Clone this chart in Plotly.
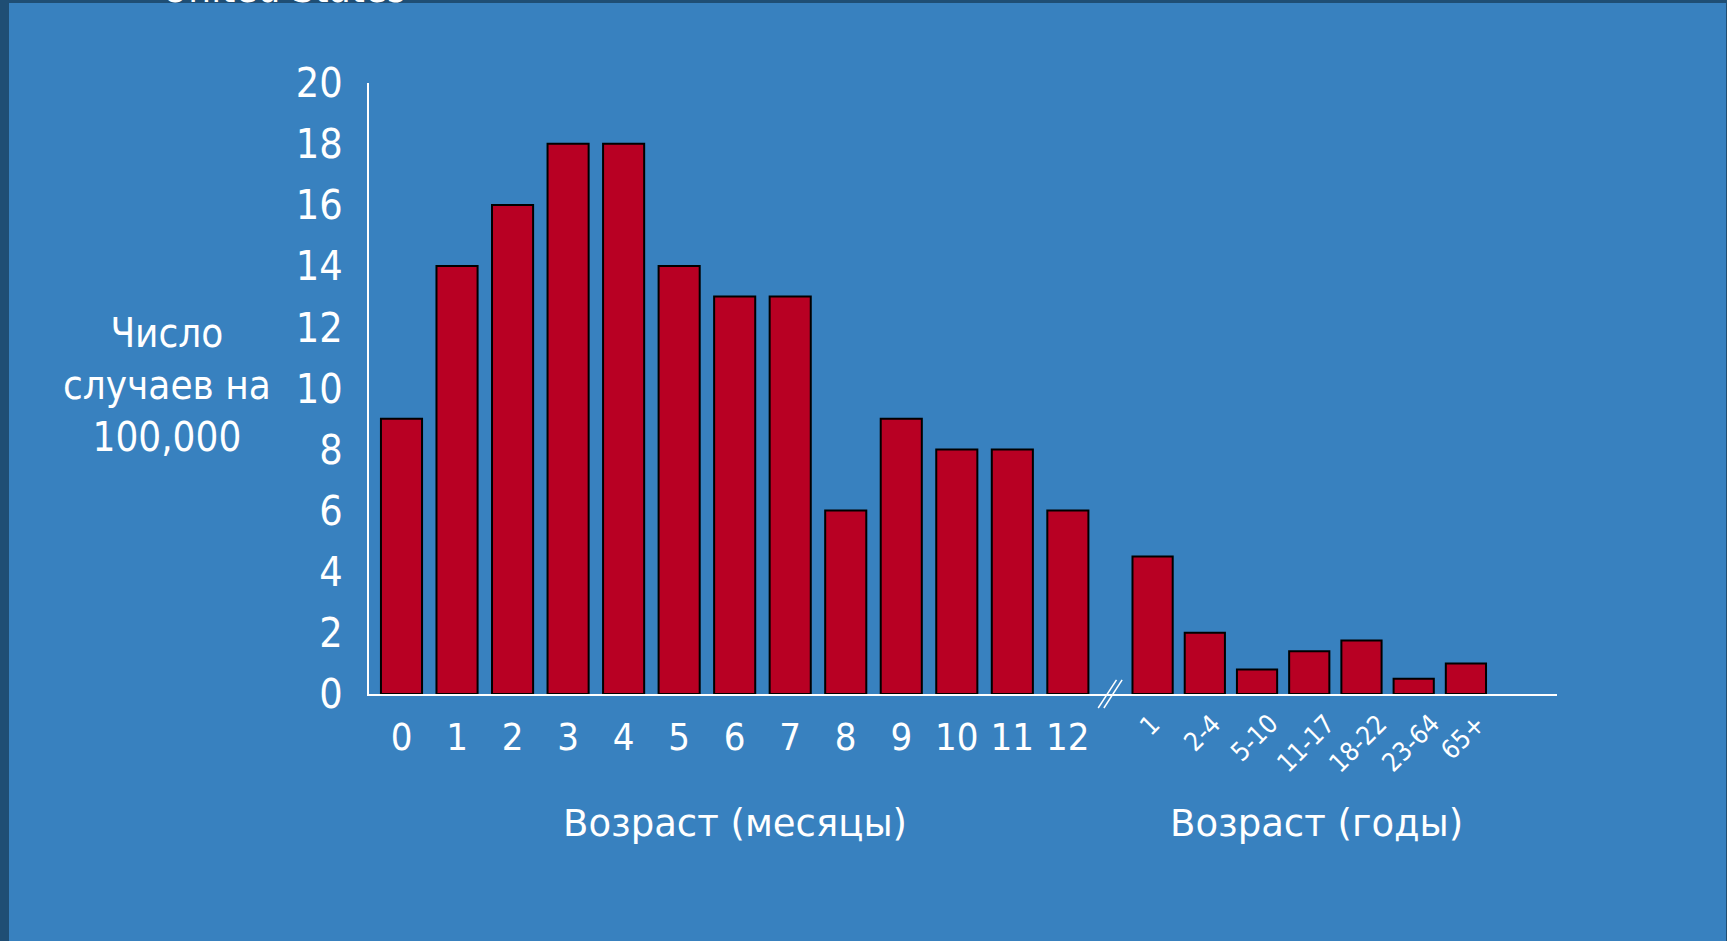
import plotly.graph_objects as go

W, H = 1727, 941

months = ["0", "1", "2", "3", "4", "5", "6", "7", "8", "9", "10", "11", "12"]
month_values = [9, 14, 16, 18, 18, 14, 13, 13, 6, 9, 8, 8, 6]
year_groups = ["1", "2-4", "5-10", "11-17", "18-22", "23-64", "65+"]
year_values = [4.5, 2.0, 0.8, 1.4, 1.75, 0.5, 1.0]
y_ticks = list(range(0, 21, 2))

BG = "#3881BF"
DARK = "#1F4E74"
BAR = "#B80023"
FONT_C = "DejaVu Sans Condensed, DejaVu Sans, sans-serif"
FONT_N = "DejaVu Sans, sans-serif"


def fx(px):
    return px / W


def fy(py):
    return 1 - py / H


# geometry (pixels)
y_base, y_top = 694.0, 82.6
x_left, x_right = 369.0, 1557.4
m_c0, m_step = 401.5, 55.53
yr_c0, yr_step = 1152.6, 52.22
m_right = m_c0 + (len(months) - 0.5) * m_step

fig = go.Figure()
fig.add_bar(x=months, y=month_values, xaxis="x", yaxis="y", width=0.74,
            marker=dict(color=BAR, line=dict(color="black", width=2)))
fig.add_bar(x=year_groups, y=year_values, xaxis="x2", yaxis="y", width=0.77,
            marker=dict(color=BAR, line=dict(color="black", width=2)))

axis_common = dict(type="category", showline=True, linecolor="white", linewidth=2,
                   showgrid=False, zeroline=False, ticks="", fixedrange=True)

# rotated year labels, centred under each bar (category index positions)
year_label_annotations = [
    dict(text=g, x=i, xref="x2", y=0, yref="y", xanchor="center", yanchor="top",
         yshift=-12, xshift=-3, textangle=-45, showarrow=False,
         font=dict(size=26, color="white", family=FONT_C))
    for i, g in enumerate(year_groups)
]

fig.update_layout(
    width=W, height=H,
    margin=dict(l=0, r=0, t=0, b=0, pad=0, autoexpand=False),
    paper_bgcolor=DARK, plot_bgcolor="rgba(0,0,0,0)",
    showlegend=False, bargap=0.2,
    font=dict(family=FONT_C, color="white"),
    xaxis=dict(domain=[fx(x_left), fx(m_right)],
               range=[(x_left - m_c0) / m_step, len(months) - 0.5],
               anchor="y", tickfont=dict(size=38, color="white", family=FONT_C),
               ticklabelstandoff=8, **axis_common),
    xaxis2=dict(domain=[fx(m_right), fx(x_right)],
                range=[(m_right - yr_c0) / yr_step, (x_right - yr_c0) / yr_step],
                anchor="y", showticklabels=False, **axis_common),
    yaxis=dict(domain=[fy(y_base), fy(y_top)], range=[0, 20], tickvals=y_ticks,
               showline=True, linecolor="white", linewidth=2, showgrid=False,
               zeroline=False, ticks="", tickfont=dict(size=41, color="white", family=FONT_C),
               ticklabelstandoff=16, fixedrange=True),
    shapes=[
        dict(type="rect", xref="paper", yref="paper", x0=fx(9), x1=fx(1726),
             y0=0, y1=fy(3), fillcolor=BG, line=dict(width=0), layer="below"),
        dict(type="line", xref="paper", yref="paper", x0=fx(1098.2), y0=fy(708),
             x1=fx(1116.5), y1=fy(679.8), line=dict(color="white", width=1.5)),
        dict(type="line", xref="paper", yref="paper", x0=fx(1103.9), y0=fy(708),
             x1=fx(1122.1), y1=fy(679.8), line=dict(color="white", width=1.5)),
    ],
    annotations=[
        dict(text="Число<br>случаев на<br>100,000", xref="paper", yref="paper",
             x=fx(167.4), y=fy(385.5), xanchor="center", yanchor="middle",
             align="center", showarrow=False,
             font=dict(size=40, color="white", family=FONT_C)),
        dict(text="Возраст (месяцы)", xref="paper", yref="paper",
             x=fx(734.6), y=fy(823.8), xanchor="center", yanchor="middle",
             showarrow=False, font=dict(size=37, color="white", family=FONT_N)),
        dict(text="Возраст (годы)", xref="paper", yref="paper",
             x=fx(1316), y=fy(823.8), xanchor="center", yanchor="middle",
             showarrow=False, font=dict(size=37, color="white", family=FONT_N)),
        dict(text="United States", xref="paper", yref="paper",
             x=fx(284), y=1, xanchor="center", yanchor="bottom", yshift=-13,
             showarrow=False, font=dict(size=40, color="white", family=FONT_C)),
    ] + year_label_annotations,
)

fig.write_html(
    "out.html",
    config={"displayModeBar": False},
    post_script="document.body.style.margin='0';document.body.style.padding='0';"
                "document.body.style.overflow='hidden';",
)
